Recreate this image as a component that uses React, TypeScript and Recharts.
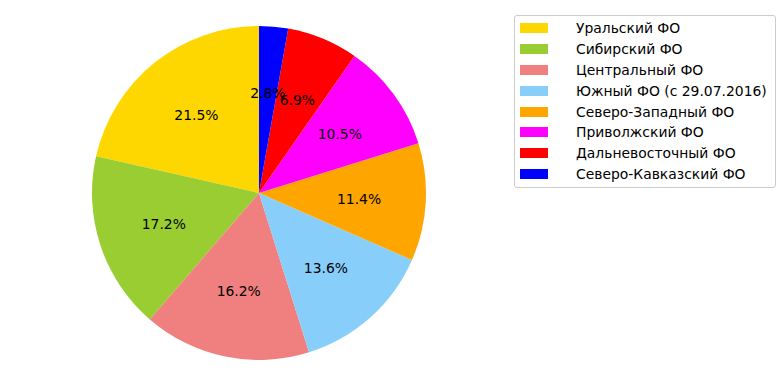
import React from 'react';
import { PieChart, Pie, Cell, Legend } from 'recharts';

const regions = [
  'Уральский ФО',
  'Сибирский ФО',
  'Центральный ФО',
  'Южный ФО (с 29.07.2016)',
  'Северо-Западный ФО',
  'Приволжский ФО',
  'Дальневосточный ФО',
  'Северо-Кавказский ФО',
];
const shares = [21.5, 17.2, 16.2, 13.6, 11.4, 10.5, 6.9, 2.8];
const colors = ['#FFD700', '#9ACD32', '#F08080', '#87CEFA', '#FFA500', '#FF00FF', '#FF0000', '#0000FF'];

const data = regions.map((name, i) => ({ name, value: shares[i] }));

const RAD = Math.PI / 180;
const FONT = 'DejaVu Sans, sans-serif';

function renderLabel(props: any) {
  const { cx, cy, midAngle, outerRadius, value } = props;
  const r = outerRadius * 0.6;
  const x = cx + r * Math.cos(-midAngle * RAD);
  const y = cy + r * Math.sin(-midAngle * RAD);
  return (
    <text x={x} y={y} fill="#000" textAnchor="middle" dominantBaseline="central" fontSize={13.9} fontFamily={FONT}>
      {value.toFixed(1)}%
    </text>
  );
}

function LegendBox() {
  return (
    <div
      style={{
        width: 262,
        height: 173,
        border: '1px solid #cccccc',
        borderRadius: 3,
        background: 'rgba(255,255,255,0.8)',
        boxSizing: 'border-box',
        paddingTop: 1.5,
        fontFamily: FONT,
        fontSize: 13.9,
      }}
    >
      {regions.map((name, i) => (
        <div key={name} style={{ display: 'flex', alignItems: 'center', height: 20.9 }}>
          <span style={{ display: 'inline-block', width: 28, height: 10, marginLeft: 5, background: colors[i] }} />
          <span style={{ marginLeft: 28, color: '#000', whiteSpace: 'nowrap' }}>{name}</span>
        </div>
      ))}
    </div>
  );
}

export default function App() {
  return (
    <div style={{ position: 'absolute', left: 0, top: 0, width: 782, height: 389, background: '#fff' }}>
      <PieChart width={782} height={389} margin={{ top: 0, right: 0, bottom: 0, left: 0 }}>
        <Pie
          data={data}
          dataKey="value"
          nameKey="name"
          cx={259}
          cy={193}
          outerRadius={167}
          startAngle={90}
          endAngle={450}
          stroke="none"
          label={renderLabel}
          labelLine={false}
          isAnimationActive={false}
        >
          {data.map((d, i) => (
            <Cell key={d.name} fill={colors[i]} />
          ))}
        </Pie>
        <Legend
          content={() => <LegendBox />}
          wrapperStyle={{ position: 'absolute', left: 514, top: 15, width: 262 }}
        />
      </PieChart>
    </div>
  );
}
